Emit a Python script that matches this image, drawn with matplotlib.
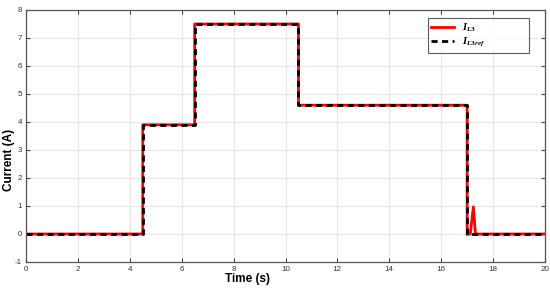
import matplotlib
matplotlib.use("Agg")
import matplotlib.pyplot as plt
import numpy as np

plt.rcParams['font.family'] = ['Liberation Sans', 'DejaVu Sans']
plt.rcParams['mathtext.fontset'] = 'custom'
plt.rcParams['mathtext.it'] = 'Liberation Serif:italic:bold'
plt.rcParams['mathtext.rm'] = 'Liberation Serif:bold'
plt.rcParams['axes.unicode_minus'] = False

# Data (time in s, current in A)
t_ref = [0, 4.5, 4.5, 6.5, 6.5, 10.5, 10.5, 17.0, 17.0, 20]
i_ref = [0, 0, 3.9, 3.9, 7.5, 7.5, 4.6, 4.6, 0, 0]
t_meas = [0, 4.5, 4.5, 6.5, 6.5, 10.5, 10.5, 17.0, 17.0, 17.12, 17.24, 17.32, 20]
i_meas = [0, 0, 3.9, 3.9, 7.5, 7.5, 4.6, 4.6, 0, 0, 0.97, 0, 0]
xticks = list(range(0, 21, 2))
yticks = list(range(-1, 9))

fig = plt.figure(figsize=(5.5, 2.88), dpi=100)
ax = fig.add_axes([26/550, 26/288, 519/550, 252/288])

ax.plot(t_meas, i_meas, color='#ff0000', lw=2.0, label=r'$I_{L3}$' + '\u00a0' * 18)
ax.plot(t_ref, i_ref, color='black', lw=2.0, ls=(0, (2.2, 1.6)), label=r'$I_{L3ref}$')

ax.set_xlim(0, 20)
ax.set_ylim(-1, 8)
ax.set_xticks(xticks)
ax.set_yticks(yticks)
ax.grid(True, color='#e6e6e6', lw=0.8)
ax.set_axisbelow(True)
ax.tick_params(direction='in', length=3, width=0.8, color='#444444', labelsize=5.8,
               labelcolor='#333333', top=True, right=True, pad=3)
for s in ax.spines.values():
    s.set_color('#555555')
    s.set_linewidth(0.9)

ax.set_xlabel('Time (s)', fontsize=8.5, fontweight='bold')
ax.xaxis.set_label_coords(0.426, -0.045)
ax.set_ylabel('Current (A)', fontsize=8.5, fontweight='bold')
ax.yaxis.set_label_coords(-0.021, 0.405)

leg = ax.legend(loc='upper right', bbox_to_anchor=(0.969, 0.968), borderaxespad=0,
                fontsize=7.5, frameon=True, fancybox=False, edgecolor='#333333',
                handlelength=2.2, borderpad=0.3, labelspacing=0.25)
leg.get_frame().set_linewidth(0.8)

fig.savefig('out.png', dpi=100)
